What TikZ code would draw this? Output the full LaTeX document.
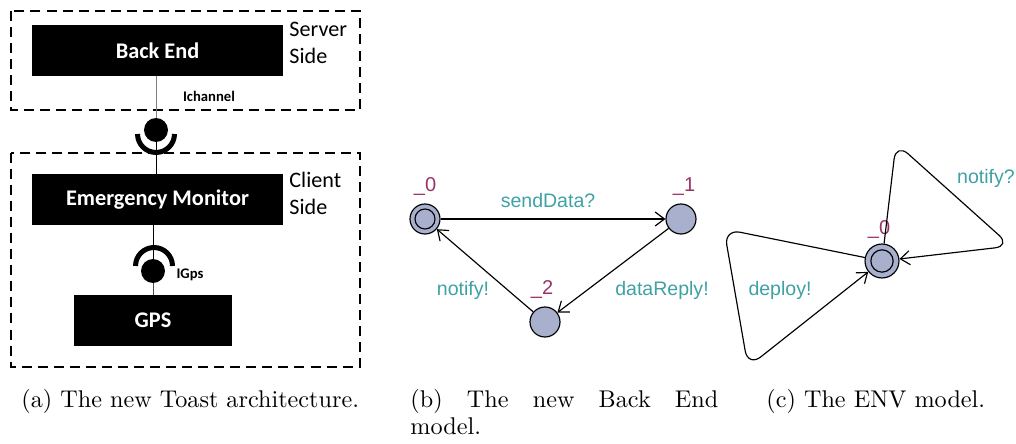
\documentclass[tikz,border=0pt]{standalone}
\usepackage{fontspec}
\usetikzlibrary{arrows.meta}
\newfontfamily\archFont{Carlito}
\newfontfamily\modelFont{Liberation Sans}

\begin{document}
\begin{tikzpicture}[x=0.43pt, y=0.43pt,
    block/.style={fill=black, text=white, inner sep=0pt, minimum height=21.9pt,
        font=\archFont\bfseries\fontsize{9.6}{11}\selectfont},
    sidetext/.style={anchor=north west, align=left, inner sep=0pt,
        font=\archFont\fontsize{9.5}{11.6}\selectfont},
    iface/.style={inner sep=0pt, font=\archFont\bfseries\fontsize{6.3}{7}\selectfont},
    ball/.style={circle, fill=black, minimum size=10.3pt, inner sep=0pt},
    socket/.style={line width=2.15pt},
    dashbox/.style={dash pattern=on 4.3pt off 2.6pt, line width=0.86pt},
    loc/.style={circle, draw=black, fill=fillColour, inner sep=0pt, line width=0.5pt},
    init/.style={path picture={\draw[line width=0.5pt] (path picture bounding box.center) circle (#1);}},
    locname/.style={inner sep=0pt, text=nameColour, font=\modelFont\fontsize{8.6}{10}\selectfont},
    sync/.style={inner sep=0pt, text=syncColour, font=\modelFont\fontsize{8.4}{10}\selectfont},
    trans/.style={-{Straight Barb[length=4pt, width=6pt]}, line width=0.5pt},
    capt/.style={inner sep=0pt, font=\fontsize{10.4}{11.6}\selectfont}]

    \definecolor{fillColour}{HTML}{A8B0CE}
    \definecolor{nameColour}{HTML}{993366}
    \definecolor{syncColour}{HTML}{3FA1A5}

    \useasboundingbox (0,0) rectangle (1016,-444);

    % (a) Server side
    \draw[dashbox] (11,-11) rectangle (360,-110);
    \node[block, minimum width=107.9pt] (backEnd) at (157.5,-50.5) {Back End};
    \node[sidetext] (serverSide) at (289,-22) {Server\\Side};
    \node[iface] (ichannel) at (209,-96) {Ichannel};

    % (a) Ichannel connector
    \node[ball] (ichBall) at (156,-130) {};
    \coordinate (ichSocket) at (156,-134);

    % (a) Client side
    \draw[dashbox] (11,-153) rectangle (360,-367);
    \node[block, minimum width=107.9pt] (em) at (157.5,-199.5) {Emergency Monitor};
    \node[sidetext] (clientSide) at (289,-172) {Client\\Side};
    \node[block, minimum width=67.9pt] (gps) at (153,-320.5) {GPS};
    \node[iface] (igps) at (190,-275) {IGps};

    % (a) IGps connector
    \node[ball] (gpsBall) at (153,-271) {};
    \coordinate (gpsSocket) at (154,-266);

    \draw[gray] (ichBall |- backEnd.south) -- (ichBall);
    \draw (ichBall) -- (ichBall |- em.north);
    \draw[socket] (ichSocket) ++(180:7.95pt) arc (180:360:7.95pt);
    \draw (gpsBall |- em.south) -- (gpsBall);
    \draw[gray!60!black] (gpsBall) -- (gps);
    \draw[socket] (gpsSocket) ++(0:7.95pt) arc (0:180:7.95pt);

    % (b) Back End model
    \node[loc, minimum size=12.9pt, init=4.3pt] (s0) at (425,-219) {};
    \node[loc, minimum size=12.9pt] (s1) at (681,-219) {};
    \node[loc, minimum size=12.9pt] (s2) at (545,-322) {};
    \node[locname] (s0name) at (425,-187) {\_0};
    \node[locname] (s1name) at (684,-187) {\_1};
    \node[locname] (s2name) at (542,-290) {\_2};

    \draw[trans] (s0) -- (s1);
    \draw[trans] (s1) -- (s2);
    \draw[trans] (s2) -- (s0);
    \node[sync] (sendData) at (548,-201) {sendData?};
    \node[sync] (dataReply) at (662,-290) {dataReply!};
    \node[sync] (notifyOut) at (463,-290) {notify!};

    % (c) ENV model
    \node[loc, minimum size=14.6pt, init=4.8pt] (e0) at (882,-261) {};
    \node[locname] (e0name) at (879,-230) {\_0};

    \coordinate (notifyA) at (896,-143);
    \coordinate (notifyB) at (1011,-246);
    \coordinate (deployA) at (724,-229);
    \coordinate (deployB) at (748,-367);
    \draw[trans, rounded corners=7pt] (e0) -- (notifyA) -- (notifyB) -- (e0);
    \draw[trans, rounded corners=7pt] (e0) -- (deployA) -- (deployB) -- (e0);
    \node[sync] (notifyIn) at (986,-178) {notify?};
    \node[sync] (deploy) at (780,-290) {deploy!};

    % Captions
    \node[capt, anchor=base west] (capA) at (21,-408) {(a) The new Toast architecture.};
    \node[capt, anchor=base west, text width=132.4pt, align=justify] (capB) at (410,-408)
        {(b) The new Back End\linebreak model.};
    \node[capt, anchor=base west] (capC) at (766,-408) {(c) The ENV model.};

\end{tikzpicture}
\end{document}
